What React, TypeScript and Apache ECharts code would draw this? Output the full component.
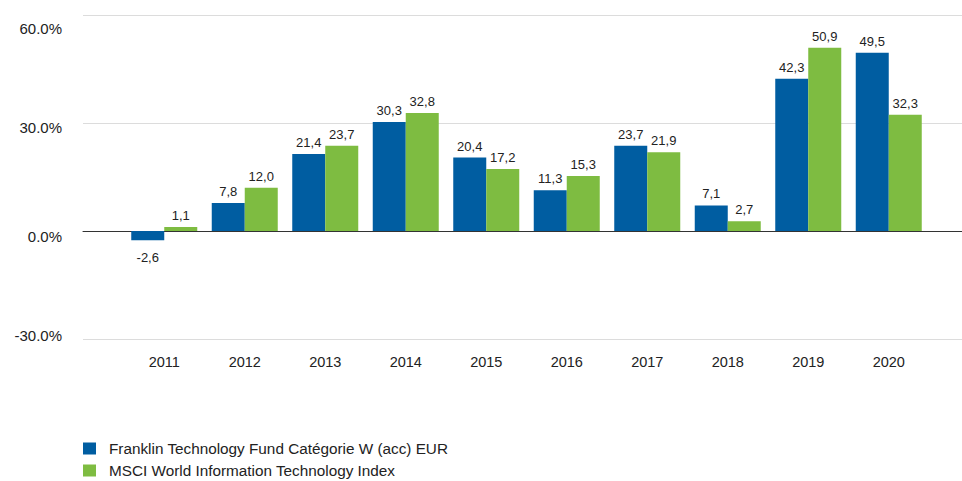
import React, { useEffect, useRef } from "react";
import * as echarts from "echarts";

const years = ["2011", "2012", "2013", "2014", "2015", "2016", "2017", "2018", "2019", "2020"];
const fundName = "Franklin Technology Fund Catégorie W (acc) EUR";
const indexName = "MSCI World Information Technology Index";
const fundValues = [-2.6, 7.8, 21.4, 30.3, 20.4, 11.3, 23.7, 7.1, 42.3, 49.5];
const indexValues = [1.1, 12.0, 23.7, 32.8, 17.2, 15.3, 21.9, 2.7, 50.9, 32.3];
const yTicks = [-30, 0, 30, 60];

const FONT = "'Liberation Sans', Arial, sans-serif";
const BLUE = "#005DA1";
const GREEN = "#7EBC41";

const fmt = (v: number) => v.toFixed(1).replace(".", ",");

const mkData = (vals: number[]) =>
  vals.map((v) => ({
    value: v,
    label: v < 0 ? { position: "bottom", distance: 11 } : { position: "top", distance: 5 },
  }));

// vertical nudges of the y-axis labels, as in the reference
const yLabelRich: Record<string, any> = {
  t60: { fontSize: 15, color: "#222", fontFamily: FONT, padding: [26, 0, 0, 0] },
  t30: { fontSize: 15, color: "#222", fontFamily: FONT, padding: [8, 0, 0, 0] },
  t0: { fontSize: 15, color: "#222", fontFamily: FONT, padding: [10, 0, 0, 0] },
  tm30: { fontSize: 15, color: "#222", fontFamily: FONT, padding: [0, 0, 8, 0] },
};
const yKey = (v: number) => (v === 60 ? "t60" : v === 30 ? "t30" : v === 0 ? "t0" : "tm30");

export default function App() {
  const ref = useRef<HTMLDivElement>(null);
  useEffect(() => {
    if (!ref.current) return;
    const chart = echarts.init(ref.current, undefined, { renderer: "svg" });
    const yMin = yTicks[0];
    const yMax = yTicks[yTicks.length - 1];
    const legendBase = {
      orient: "horizontal",
      left: 83,
      padding: 0,
      itemWidth: 13,
      itemHeight: 12,
      icon: "rect",
      textStyle: { fontSize: 15.3, color: "#222", fontFamily: FONT, padding: [0, 0, 0, 8] },
    };
    chart.setOption({
      animation: false,
      textStyle: { fontFamily: FONT },
      grid: [
        { left: 83, right: 0, top: 15, bottom: 142 },
        { left: 124, right: 33, top: 15, bottom: 142 },
      ],
      legend: [
        { ...legendBase, top: 441, data: [fundName] },
        { ...legendBase, top: 463, data: [indexName] },
      ],
      xAxis: [
        {
          gridIndex: 0,
          type: "value",
          min: 0,
          max: 1,
          axisLine: { show: true, onZero: true, lineStyle: { color: "#333", width: 1 } },
          axisTick: { show: false },
          axisLabel: { show: false },
          splitLine: { show: false },
        },
        {
          gridIndex: 1,
          type: "category",
          data: years,
          axisLine: { show: false },
          axisTick: { show: false },
          axisLabel: { fontSize: 14.5, color: "#222", margin: 15, fontFamily: FONT },
        },
      ],
      yAxis: [
        {
          gridIndex: 0,
          type: "value",
          min: yMin,
          max: yMax,
          interval: 30,
          axisLine: { show: false },
          axisTick: { show: false },
          axisLabel: {
            fontSize: 15,
            color: "#222",
            margin: 21,
            fontFamily: FONT,
            formatter: (v: number) => `{${yKey(v)}|${v.toFixed(1)}%}`,
            rich: yLabelRich,
          },
          splitLine: { show: true, lineStyle: { color: "#DCDCDC", width: 1 } },
        },
        {
          gridIndex: 1,
          type: "value",
          min: yMin,
          max: yMax,
          interval: 30,
          show: false,
          splitLine: { show: false },
        },
      ],
      series: [
        {
          name: fundName,
          type: "bar",
          xAxisIndex: 1,
          yAxisIndex: 1,
          data: mkData(fundValues),
          barWidth: 33,
          barGap: "0%",
          itemStyle: { color: BLUE },
          label: {
            show: true,
            fontSize: 13,
            color: "#222",
            fontFamily: FONT,
            formatter: (p: any) => fmt(p.value),
          },
        },
        {
          name: indexName,
          type: "bar",
          xAxisIndex: 1,
          yAxisIndex: 1,
          data: mkData(indexValues),
          barWidth: 33,
          barGap: "0%",
          itemStyle: { color: GREEN },
          label: {
            show: true,
            fontSize: 13,
            color: "#222",
            fontFamily: FONT,
            formatter: (p: any) => fmt(p.value),
          },
        },
      ],
    });
    return () => chart.dispose();
  }, []);
  return <div ref={ref} style={{ width: 962, height: 481, position: "absolute", left: 0, top: 0 }} />;
}
